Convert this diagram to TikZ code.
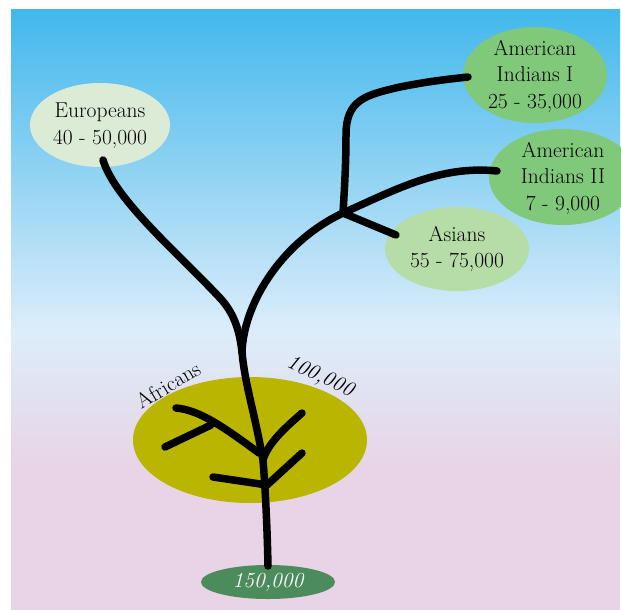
\documentclass[tikz,border=0pt]{standalone}
\usepackage{fontspec}
\definecolor{skytop}{RGB}{66,184,236}
\definecolor{skymid}{RGB}{220,237,250}
\definecolor{dusk}{RGB}{232,212,230}
\definecolor{eurofill}{RGB}{220,235,214}
\definecolor{amerfill}{RGB}{128,200,122}
\definecolor{asiafill}{RGB}{182,220,168}
\definecolor{afrofill}{RGB}{186,181,0}
\definecolor{rootfill}{RGB}{76,140,92}
\tikzset{
  poptext/.style={align=center, inner sep=0pt, font=\fontsize{21.5}{26.5}\selectfont},
  tag/.style={inner sep=0pt, font=\fontsize{21.5}{26}\selectfont},
  limb/.style={line width=7.5pt, line cap=round, line join=round},
}

\begin{document}
\begin{tikzpicture}[x=1pt,y=-1pt]
  \useasboundingbox (0,0) rectangle (621,610);
  % sky
  \shade[top color=skytop, bottom color=skymid] (11,10) rectangle (620,331);
  \shade[top color=skymid, bottom color=dusk] (11,330) rectangle (620,471);
  \fill[dusk] (11,470) rectangle (620,610);

  % populations
  \fill[eurofill] (100,125) ellipse [x radius=70, y radius=42];
  \fill[amerfill] (535,75) ellipse [x radius=72, y radius=48];
  \fill[amerfill] (563,177) ellipse [x radius=74, y radius=48];
  \fill[asiafill] (457,249) ellipse [x radius=72, y radius=42];
  \fill[afrofill] (250,440) ellipse [x radius=117, y radius=63];
  \fill[rootfill] (268,582) ellipse [x radius=67, y radius=17];

  \node[poptext] (euro) at (100,126) {Europeans\\40 - 50,000};
  \node[poptext] (amer1) at (535,76) {American\\Indians I\\25 - 35,000};
  \node[poptext] (amer2) at (563,178) {American\\Indians II\\7 - 9,000};
  \node[poptext] (asia) at (457,249) {Asians\\55 - 75,000};
  \node[tag, rotate=31] (afro) at (168,385) {Africans};
  \node[tag, rotate=-25, font=\fontsize{21.5}{26}\selectfont\itshape] (age100) at (320,377) {100,000};
  \node[tag, text=white, font=\fontsize{21.5}{26}\selectfont\itshape] (age150) at (268,582) {150,000};

  % tree
  \coordinate (stem) at (268,566);
  \coordinate (fork) at (242,352);
  \coordinate (knot) at (343,213);
  \coordinate (euro-tip) at (103,160);
  \coordinate (amer1-tip) at (468,77);
  \coordinate (amer2-tip) at (497,171);
  \coordinate (asia-tip) at (396,235);
  \coordinate (twig-a) at (259,453);
  \coordinate (twig-b) at (263,460);
  \coordinate (twig-c) at (267,485);
  \coordinate (twig-d) at (211,425);
  \coordinate (leaf-a) at (176,408);
  \coordinate (leaf-b) at (165,447);
  \coordinate (leaf-c) at (302,413);
  \coordinate (leaf-d) at (302,453);
  \coordinate (leaf-e) at (213,477);

  \draw[limb] (stem) .. controls (267,520) and (265,485) .. (twig-b)
    .. controls (254,410) and (245,385) .. (fork);
  \draw[limb] (euro-tip) .. controls (115,200) and (180,255) .. (220,298)
    .. controls (236,315) and (240,335) .. (fork);
  \draw[limb] (fork) .. controls (244,300) and (285,240) .. (knot)
    .. controls (395,190) and (440,165) .. (amer2-tip);
  \draw[limb] (knot) -- (asia-tip);
  \draw[limb] (knot) .. controls (345,180) and (346,160) .. (346,135)
    .. controls (346,100) and (365,95) .. (400,87)
    .. controls (430,81) and (450,79) .. (amer1-tip);
  \draw[limb] (leaf-a) .. controls (200,410) and (225,428) .. (twig-a);
  \draw[limb] (leaf-b) -- (twig-d);
  \draw[limb] (leaf-c) .. controls (285,428) and (268,443) .. (twig-b);
  \draw[limb] (leaf-d) -- (twig-c);
  \draw[limb] (leaf-e) -- (twig-c);
\end{tikzpicture}
\end{document}
